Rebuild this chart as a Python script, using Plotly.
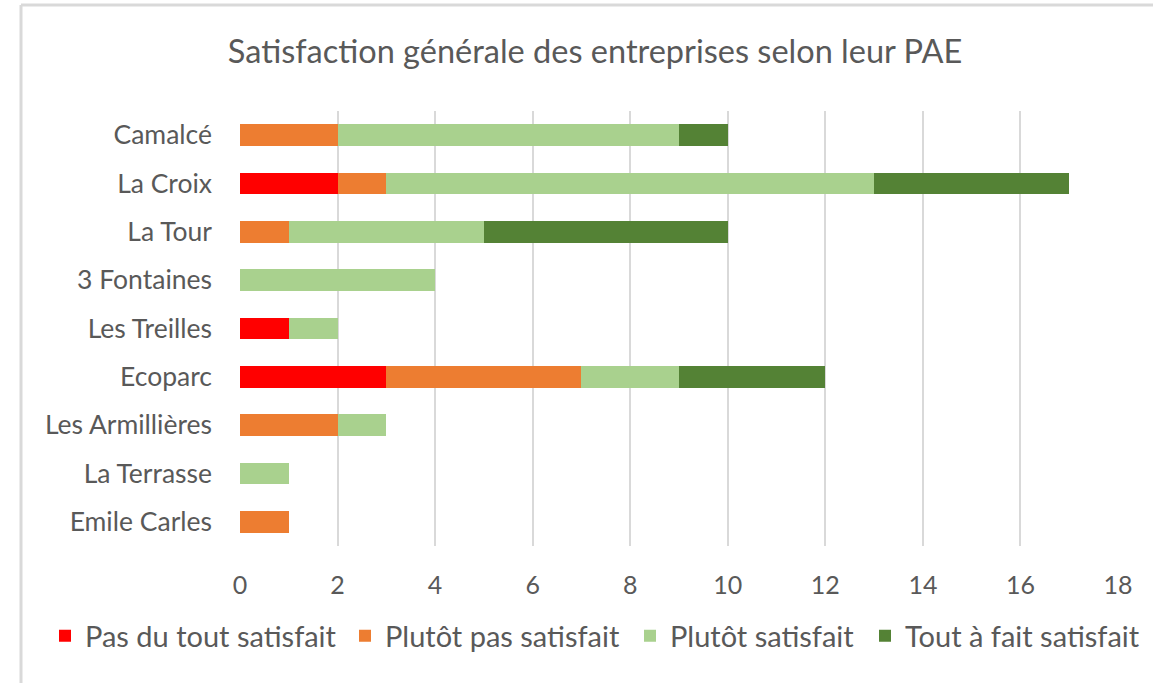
import plotly.graph_objects as go

categories = ["Camalcé", "La Croix", "La Tour", "3 Fontaines", "Les Treilles",
              "Ecoparc", "Les Armillières", "La Terrasse", "Emile Carles"]
pas_du_tout = [0, 2, 0, 0, 1, 3, 0, 0, 0]
plutot_pas = [2, 1, 1, 0, 0, 4, 2, 0, 1]
plutot = [7, 10, 4, 4, 1, 2, 1, 1, 0]
tout_a_fait = [1, 4, 5, 0, 0, 3, 0, 0, 0]
series_names = ["Pas du tout satisfait", "Plutôt pas satisfait", "Plutôt satisfait", "Tout à fait satisfait"]
colors = ["#FF0000", "#ED7D31", "#A9D18E", "#548235"]
x_ticks = list(range(0, 20, 2))

FONT = "Lato"
GRAY = "#595959"

W, H = 1153, 683
L, R, T, B = 240, 35, 111, 137
pw, ph = W - L - R, H - T - B

def px_x(p):
    return (p - L) / pw

def px_y(p):
    return (H - B - p) / ph

legend_ids = ["legend", "legend2", "legend3", "legend4"]
legend_left_px = [45, 345, 630, 865]

fig = go.Figure()
for name, vals, col, lid in zip(series_names, [pas_du_tout, plutot_pas, plutot, tout_a_fait], colors, legend_ids):
    fig.add_trace(go.Bar(y=categories, x=vals, name=name, orientation="h", legend=lid,
                         showlegend=True, marker=dict(color=col, line=dict(width=0))))

legend_common = dict(orientation="h", xanchor="left", xref="container",
                     y=1 - 636 / H, yanchor="middle", yref="container",
                     font=dict(size=29, color=GRAY, family=FONT),
                     itemwidth=30, itemclick=False, bgcolor="rgba(0,0,0,0)", visible=True)
legend_layouts = {lid: dict(x=lx / W, **legend_common) for lid, lx in zip(legend_ids, legend_left_px)}

fig.update_layout(
    width=W, height=H,
    showlegend=True,
    barmode="stack", bargap=0.55,
    plot_bgcolor="white", paper_bgcolor="white",
    margin=dict(l=L, r=R, t=T, b=B, pad=0),
    font=dict(family=FONT, color=GRAY),
    title=dict(text="Satisfaction générale des entreprises selon leur PAE",
               font=dict(size=32.5, color=GRAY, family=FONT),
               x=595 / W, xanchor="center", xref="container",
               y=1 - 52 / H, yanchor="middle", yref="container"),
    xaxis=dict(range=[0, 18], tickvals=x_ticks, showgrid=True, gridcolor="#D9D9D9",
               gridwidth=2, zeroline=False, showline=False, ticks="",
               tickfont=dict(size=25, color=GRAY, family=FONT), ticklabelstandoff=22),
    yaxis=dict(categoryorder="array", categoryarray=categories, autorange="reversed",
               showgrid=False, zeroline=False, showline=False, ticks="",
               tickfont=dict(size=26.5, color=GRAY, family=FONT), ticklabelstandoff=27),
    shapes=[
        dict(type="line", xref="paper", yref="paper", x0=px_x(21), x1=px_x(1200),
             y0=px_y(5), y1=px_y(5), line=dict(color="#D9D9D9", width=3)),
        dict(type="line", xref="paper", yref="paper", x0=px_x(21), x1=px_x(21),
             y0=px_y(5), y1=px_y(720), line=dict(color="#D9D9D9", width=3)),
    ],
    **legend_layouts,
)

fig.write_html("out.html", config={"displayModeBar": False},
               post_script="document.body.style.margin='0px';")
